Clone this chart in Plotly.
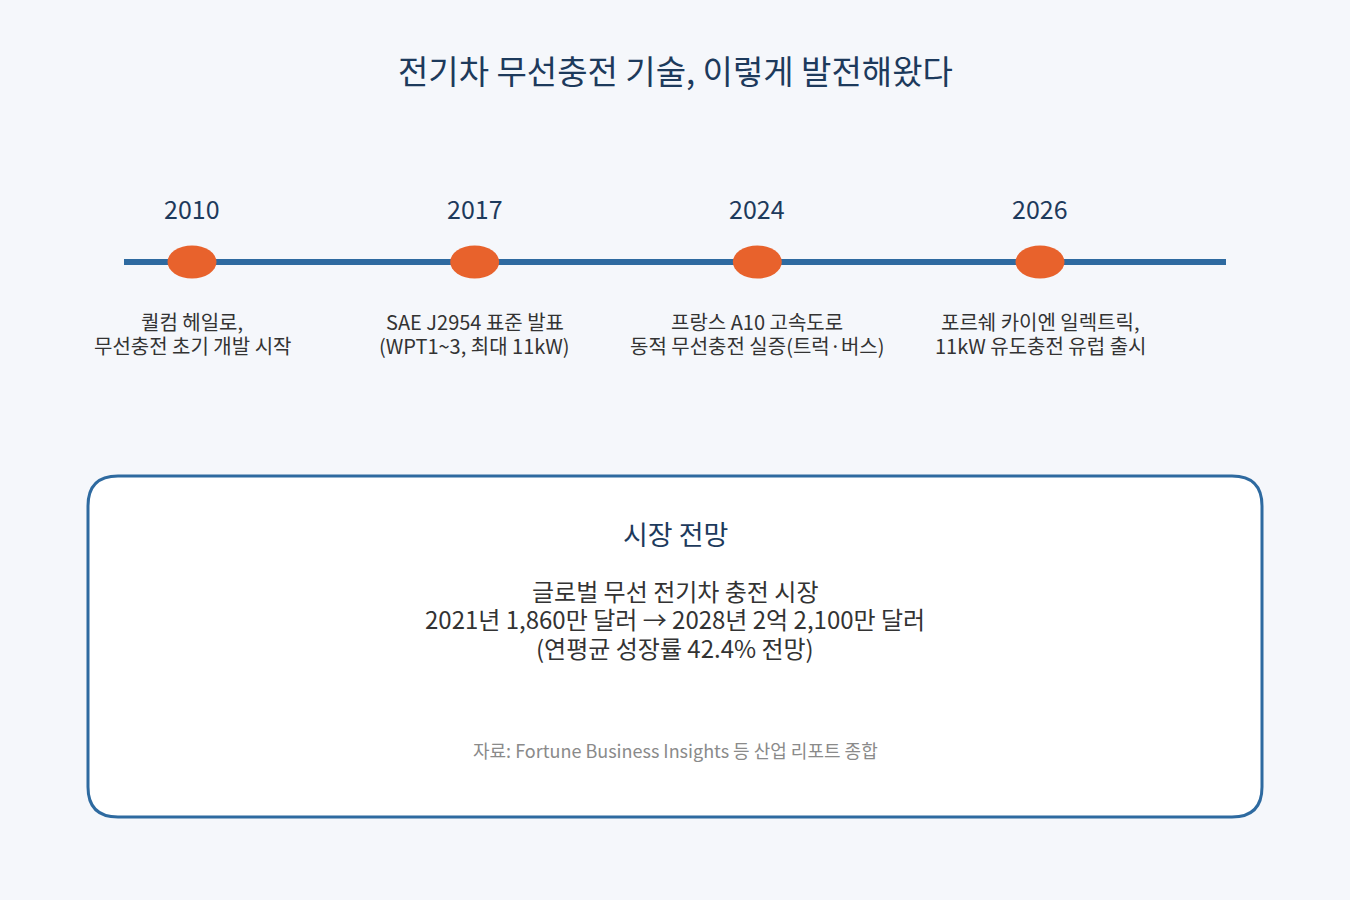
import plotly.graph_objects as go

# timeline data
years = ['2010', '2017', '2024', '2026']
events = [
    ['퀄컴 헤일로,', '무선충전 초기 개발 시작'],
    ['SAE J2954 표준 발표', '(WPT1~3, 최대 11kW)'],
    ['프랑스 A10 고속도로', '동적 무선충전 실증(트럭·버스)'],
    ['포르쉐 카이엔 일렉트릭,', '11kW 유도충전 유럽 출시'],
]
title_text = '전기차 무선충전 기술, 이렇게 발전해왔다'
box_title = '시장 전망'
box_lines = [
    '글로벌 무선 전기차 충전 시장',
    '2021년 1,860만 달러 → 2028년 2억 2,100만 달러',
    '(연평균 성장률 42.4% 전망)',
]
source_text = '자료: Fortune Business Insights 등 산업 리포트 종합'

W, H = 1350, 900
FONT = 'Noto Sans CJK KR'
NAVY = '#1d3a5c'
BLUE = '#2e6aa0'
ORANGE = '#e8622c'
TEXT = '#333333'

pos = list(range(len(years)))
# x axis: index 0 -> 192px, index 3 -> 1040px
step = (1040 - 192) / 3
x_lo = -192 / step
x_hi = 3 + (W - 1040) / step
line_x0 = -(192 - 124) / step
line_x1 = 3 + (1226 - 1040) / step

fig = go.Figure()
fig.add_trace(go.Scatter(x=[line_x0, line_x1], y=[0, 0], mode='lines',
                         line=dict(color=BLUE, width=6), hoverinfo='skip'))

shapes = []
annotations = []
for p, yr, ev in zip(pos, years, events):
    shapes.append(dict(type='circle', xref='x', yref='y', xsizemode='pixel', ysizemode='pixel',
                       xanchor=p, yanchor=0, x0=-24.5, x1=24.5, y0=-16.5, y1=16.5,
                       fillcolor=ORANGE, line=dict(width=0), layer='above'))
    annotations.append(dict(x=p, y=0, xref='x', yref='y', text=yr, showarrow=False,
                            yshift=54, font=dict(family=FONT, size=25, color=NAVY)))
    for j, ln in enumerate(ev):
        annotations.append(dict(x=p, y=0, xref='x', yref='y', text=ln, showarrow=False,
                                yshift=-59 - 24 * j, font=dict(family=FONT, size=20, color=TEXT)))

# rounded box (pixel coords -> paper)
def px(x):
    return x / W

def py(y):
    return 1 - y / H

bx0, bx1, by0, by1, r = 88, 1262, 476, 817, 30
path = (f'M {px(bx0 + r)},{py(by0)} L {px(bx1 - r)},{py(by0)} '
        f'Q {px(bx1)},{py(by0)} {px(bx1)},{py(by0 + r)} '
        f'L {px(bx1)},{py(by1 - r)} Q {px(bx1)},{py(by1)} {px(bx1 - r)},{py(by1)} '
        f'L {px(bx0 + r)},{py(by1)} Q {px(bx0)},{py(by1)} {px(bx0)},{py(by1 - r)} '
        f'L {px(bx0)},{py(by0 + r)} Q {px(bx0)},{py(by0)} {px(bx0 + r)},{py(by0)} Z')
shapes.append(dict(type='path', xref='paper', yref='paper', path=path,
                   fillcolor='white', line=dict(color=BLUE, width=3), layer='below'))

def label(text, y, size, color):
    return dict(x=0.5, y=py(y), xref='paper', yref='paper', text=text, showarrow=False,
                xanchor='center', yanchor='middle', font=dict(family=FONT, size=size, color=color))

annotations.append(label(title_text, 70, 33, NAVY))
annotations.append(label(box_title, 533, 27, NAVY))
for i, ln in enumerate(box_lines):
    annotations.append(label(ln, 590 + i * 28.5, 24, TEXT))
annotations.append(label(source_text, 750, 18, '#8a8a8a'))

fig.update_layout(width=W, height=H, margin=dict(l=0, r=0, t=0, b=0),
                  paper_bgcolor='#f5f7fb', plot_bgcolor='rgba(0,0,0,0)',
                  showlegend=False, shapes=shapes, annotations=annotations)
fig.update_xaxes(range=[x_lo, x_hi], visible=False, fixedrange=True)
fig.update_yaxes(range=[-(H - 262), 262], visible=False, fixedrange=True)
fig.write_html('out.html', config={'displayModeBar': False},
               post_script="document.body.style.margin='0';")
